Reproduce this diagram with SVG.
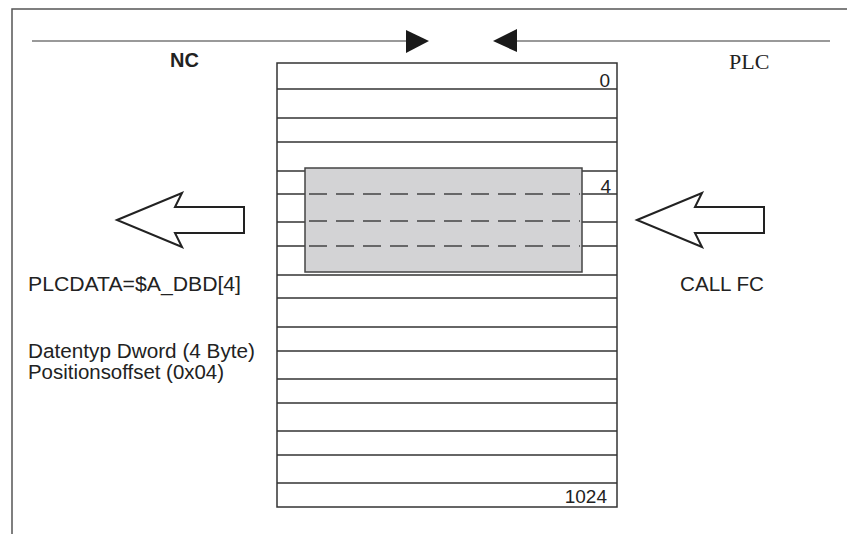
<svg xmlns="http://www.w3.org/2000/svg" width="847" height="534" viewBox="0 0 847 534">
<style>
.t{font-family:"Liberation Sans",Arial,sans-serif;fill:#222}
.row{stroke:#333;stroke-width:1.5}
.dash{stroke:#444;stroke-width:1.4;stroke-dasharray:18 9}
.hollow{fill:#fff;stroke:#222;stroke-width:2;stroke-linejoin:miter}
.axis{stroke:#777;stroke-width:1.5;fill:none}
</style>
<defs>
<polygon id="harrow" points="0,0 65,-27 58,-13 127,-13 127,13 58,13 65,27" class="hollow"/>
</defs>
<rect width="847" height="534" fill="#fff"/>
<g id="frame">
<path d="M12,534 V9 H847" fill="none" stroke="#555" stroke-width="1.5"/>
</g>
<g id="connectors">
<line class="axis" x1="32" y1="41" x2="406" y2="41"/>
<polygon points="406,30 429,41 406,53" fill="#1a1a1a"/>
<line class="axis" x1="517" y1="41" x2="830" y2="41"/>
<polygon points="517,29 493,41 517,52" fill="#1a1a1a"/>
</g>
<g id="nc-label"><text class="t" x="170" y="67" font-size="20" font-weight="bold">NC</text></g>
<g id="plc-label"><text x="729" y="69" font-family="'Liberation Serif','Times New Roman',serif" font-size="22" fill="#222">PLC</text></g>
<g id="memory-table">
<rect x="277" y="63" width="340" height="444" fill="#fff" stroke="#333" stroke-width="1.5"/>
<g class="row">
<line x1="277" y1="89" x2="617" y2="89"/>
<line x1="277" y1="118" x2="617" y2="118"/>
<line x1="277" y1="142" x2="617" y2="142"/>
<line x1="277" y1="171" x2="617" y2="171"/>
<line x1="277" y1="194" x2="617" y2="194"/>
<line x1="277" y1="222" x2="617" y2="222"/>
<line x1="277" y1="246" x2="617" y2="246"/>
<line x1="277" y1="275" x2="617" y2="275"/>
<line x1="277" y1="298" x2="617" y2="298"/>
<line x1="277" y1="327" x2="617" y2="327"/>
<line x1="277" y1="351" x2="617" y2="351"/>
<line x1="277" y1="379" x2="617" y2="379"/>
<line x1="277" y1="403" x2="617" y2="403"/>
<line x1="277" y1="431" x2="617" y2="431"/>
<line x1="277" y1="455" x2="617" y2="455"/>
<line x1="277" y1="483" x2="617" y2="483"/>
</g>
<text class="t" x="610" y="87" font-size="19" text-anchor="end">0</text>
<text class="t" x="611" y="193" font-size="19" text-anchor="end">4</text>
<text class="t" x="607" y="503" font-size="19" text-anchor="end">1024</text>
</g>
<g id="dword-block">
<rect x="305" y="168" width="277" height="104" fill="#d3d3d5" stroke="#444" stroke-width="1.5"/>
<line class="dash" x1="309" y1="194" x2="580" y2="194"/>
<line class="dash" x1="309" y1="221" x2="580" y2="221"/>
<line class="dash" x1="309" y1="246" x2="580" y2="246"/>
</g>
<g id="nc-arrow"><use href="#harrow" x="117" y="220"/></g>
<g id="plc-arrow"><use href="#harrow" x="637" y="220"/></g>
<g id="nc-text">
<text class="t" x="28" y="291" font-size="20.5" textLength="213" lengthAdjust="spacingAndGlyphs">PLCDATA=$A_DBD[4]</text>
<text class="t" x="28" y="358" font-size="20.5" textLength="227" lengthAdjust="spacingAndGlyphs">Datentyp Dword (4 Byte)</text>
<text class="t" x="28" y="379" font-size="20.5" textLength="196" lengthAdjust="spacingAndGlyphs">Positionsoffset (0x04)</text>
</g>
<g id="plc-text">
<text class="t" x="680" y="291" font-size="20.5" textLength="84" lengthAdjust="spacingAndGlyphs">CALL FC</text>
</g>
</svg>
